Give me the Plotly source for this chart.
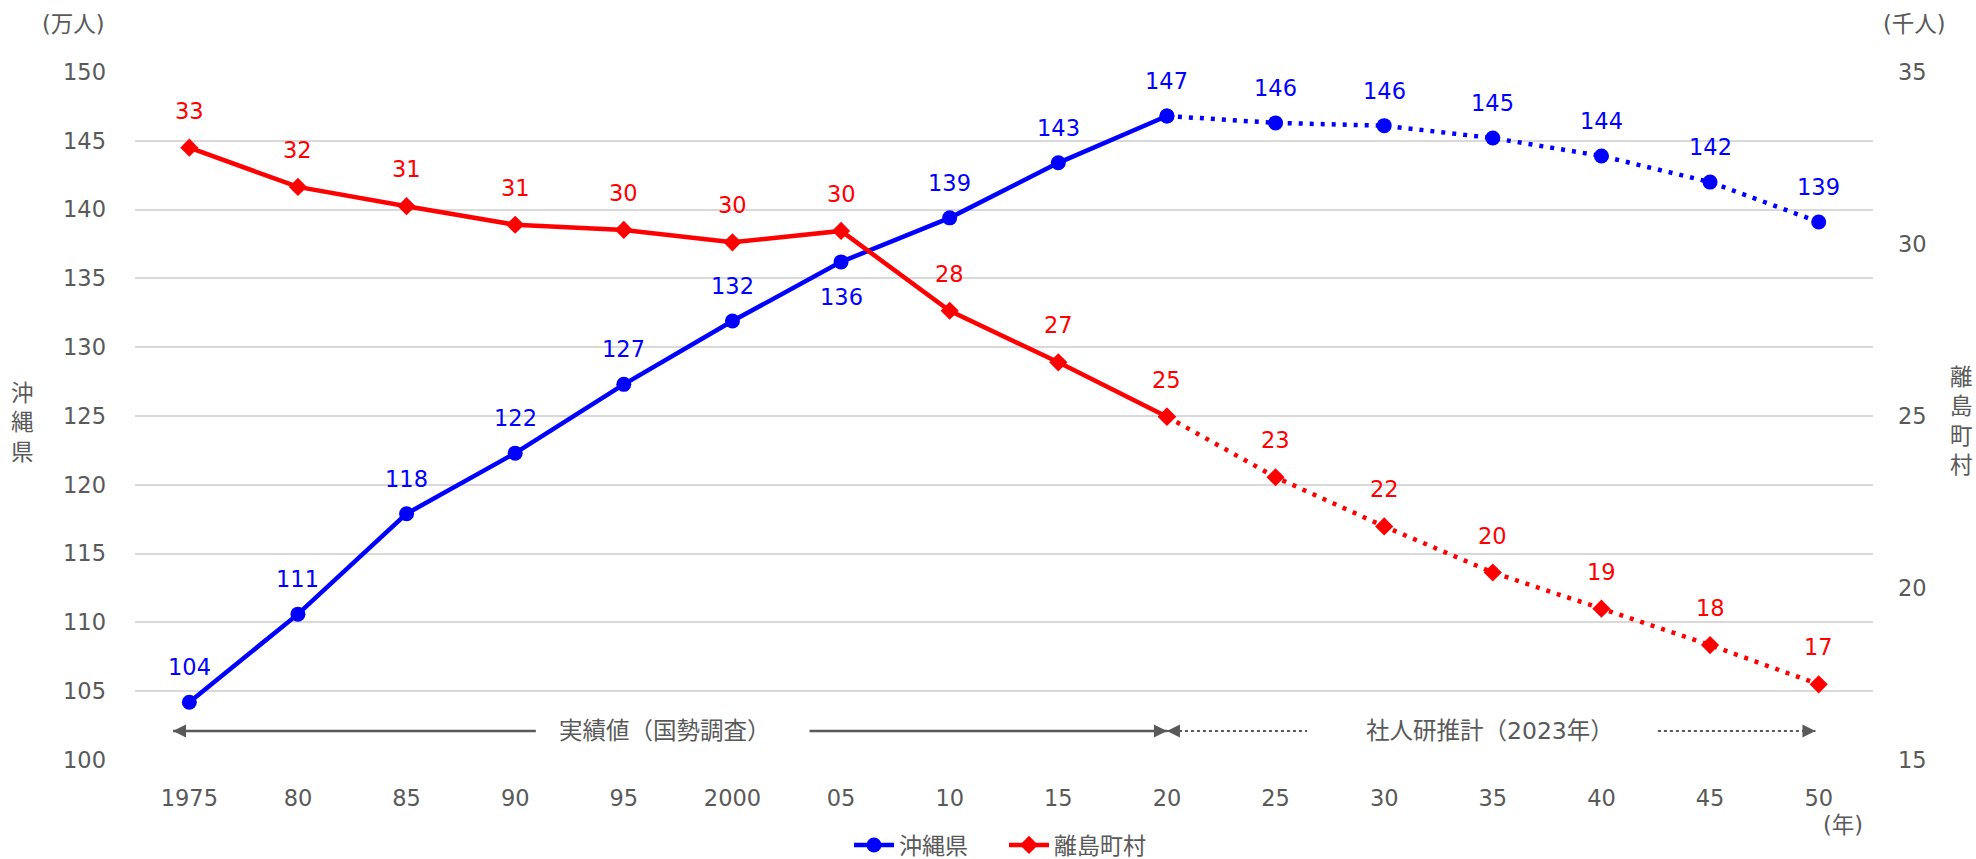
import plotly.graph_objects as go

# --- data -------------------------------------------------------------
years = ["1975", "80", "85", "90", "95", "2000", "05", "10",
         "15", "20", "25", "30", "35", "40", "45", "50"]
okinawa = [104.2, 110.6, 117.9, 122.3, 127.3, 131.9, 136.2, 139.4,
           143.4, 146.8, 146.3, 146.1, 145.2, 143.9, 142.0, 139.1]   # 万人
okinawa_labels = ["104", "111", "118", "122", "127", "132", "136", "139",
                  "143", "147", "146", "146", "145", "144", "142", "139"]
islands = [32.8, 31.66, 31.1, 30.56, 30.41, 30.05, 30.38, 28.06,
           26.56, 24.98, 23.22, 21.79, 20.45, 19.4, 18.34, 17.2]      # 千人
islands_labels = ["33", "32", "31", "31", "30", "30", "30", "28",
                  "27", "25", "23", "22", "20", "19", "18", "17"]
last_actual = 9   # index of 2020: last census year, projections follow

BLUE = "#0000FF"
RED = "#FF0000"
GREY = "#595959"
FONT = "DejaVu Sans, Noto Sans CJK JP, sans-serif"
TXT = 22.5

fig = go.Figure()

# 沖縄県 (left axis): solid for census values, dotted for projection
fig.add_trace(go.Scatter(
    x=years[:last_actual + 1], y=okinawa[:last_actual + 1], name="沖縄県",
    mode="lines+markers", line=dict(color=BLUE, width=4.5),
    marker=dict(symbol="circle", size=15, color=BLUE), yaxis="y"))
fig.add_trace(go.Scatter(
    x=years[last_actual:], y=okinawa[last_actual:], showlegend=False,
    mode="lines+markers", line=dict(color=BLUE, width=4.5, dash="4px,7px"),
    marker=dict(symbol="circle", size=15, color=BLUE), yaxis="y"))

# 離島町村 (right axis)
fig.add_trace(go.Scatter(
    x=years[:last_actual + 1], y=islands[:last_actual + 1], name="離島町村",
    mode="lines+markers", line=dict(color=RED, width=4.5),
    marker=dict(symbol="diamond", size=14, color=RED), yaxis="y2"))
fig.add_trace(go.Scatter(
    x=years[last_actual:], y=islands[last_actual:], showlegend=False,
    mode="lines+markers", line=dict(color=RED, width=4.5, dash="4px,7px"),
    marker=dict(symbol="diamond", size=14, color=RED), yaxis="y2"))

# value labels (category axis positions given by index)
annotations = []
for i, (yr, v, t) in enumerate(zip(years, okinawa, okinawa_labels)):
    annotations.append(dict(x=i, y=v, xref="x", yref="y", text=t,
                            showarrow=False, yshift=-35 if yr == "05" else 35,
                            font=dict(color=BLUE, size=TXT, family=FONT)))
for i, (v, t) in enumerate(zip(islands, islands_labels)):
    annotations.append(dict(x=i, y=v, xref="x", yref="y2", text=t,
                            showarrow=False, yshift=37,
                            font=dict(color=RED, size=TXT, family=FONT)))

# period arrows along the bottom of the plot
ARROW_Y = 102.1
shapes = []


def seg(x0, x1, dash="solid", width=2.5):
    shapes.append(dict(type="line", xref="x", yref="y", x0=x0, x1=x1,
                       y0=ARROW_Y, y1=ARROW_Y,
                       line=dict(color=GREY, width=width, dash=dash)))


def head(x, direction):
    w = 13 if direction == "left" else -13
    shapes.append(dict(type="path", xref="x", yref="y",
                       xsizemode="pixel", ysizemode="pixel",
                       xanchor=x, yanchor=ARROW_Y,
                       path=f"M0,0 L{w},-6.5 L{w},6.5 Z",
                       fillcolor=GREY, line=dict(color=GREY, width=0)))


seg(-0.15, 3.19)
seg(5.71, 9.0)
head(-0.15, "left")
head(9.0, "right")
seg(9.0, 10.29, dash="dot", width=2)
seg(13.52, 14.97, dash="dot", width=2)
head(9.0, "left")
head(14.97, "right")

annotations.append(dict(x=4.38, y=ARROW_Y, xref="x", yref="y",
                        text="実績値（国勢調査）", showarrow=False,
                        font=dict(color=GREY, size=23.5, family=FONT)))
annotations.append(dict(x=11.97, y=ARROW_Y, xref="x", yref="y",
                        text="社人研推計（2023年）", showarrow=False,
                        font=dict(color=GREY, size=23.5, family=FONT)))

# axis captions
W, H = 1976, 859
L, R, T, B = 135, 103, 72, 99
pw, ph = W - L - R, H - T - B


def px(xp):
    return (xp - L) / pw


def py(yp):
    return (H - B - yp) / ph


def caption(xp, yp, text):
    annotations.append(dict(x=px(xp), y=py(yp), xref="paper", yref="paper",
                            text=text, showarrow=False, xanchor="center",
                            yanchor="middle",
                            font=dict(color=GREY, size=TXT, family=FONT)))


caption(73, 24, "(万人)")
caption(1914, 24, "(千人)")
caption(23, 422, "沖<br>縄<br>県")
caption(1962, 421, "離<br>島<br>町<br>村")
caption(1843, 825, "(年)")

fig.update_layout(
    width=W, height=H,
    margin=dict(l=L, r=R, t=T, b=B, pad=0, autoexpand=False),
    paper_bgcolor="white", plot_bgcolor="white",
    font=dict(family=FONT, size=TXT, color=GREY),
    showlegend=True,
    legend=dict(orientation="h", x=0.5, xanchor="center",
                yref="container", y=(H - 845) / H, yanchor="middle",
                itemwidth=40, entrywidth=100,
                font=dict(size=23, color=GREY), bgcolor="rgba(0,0,0,0)"),
    xaxis=dict(type="category", categoryorder="array", categoryarray=years,
               range=[-0.5, len(years) - 0.5], showgrid=False, zeroline=False,
               showline=False, ticks="", ticklabelstandoff=22,
               automargin=False, tickfont=dict(size=TXT, color=GREY)),
    yaxis=dict(range=[100, 150], dtick=5, tick0=100, showgrid=True,
               gridcolor="#D9D9D9", gridwidth=1.5, zeroline=False,
               showline=False, ticks="", ticklabelstandoff=28,
               automargin=False, tickfont=dict(size=TXT, color=GREY)),
    yaxis2=dict(range=[15, 35], dtick=5, tick0=15, overlaying="y",
                side="right", showgrid=False, zeroline=False, showline=False,
                ticks="", ticklabelstandoff=24, automargin=False,
                tickfont=dict(size=TXT, color=GREY)),
    annotations=annotations,
    shapes=shapes,
)

fig.write_html("out.html")
